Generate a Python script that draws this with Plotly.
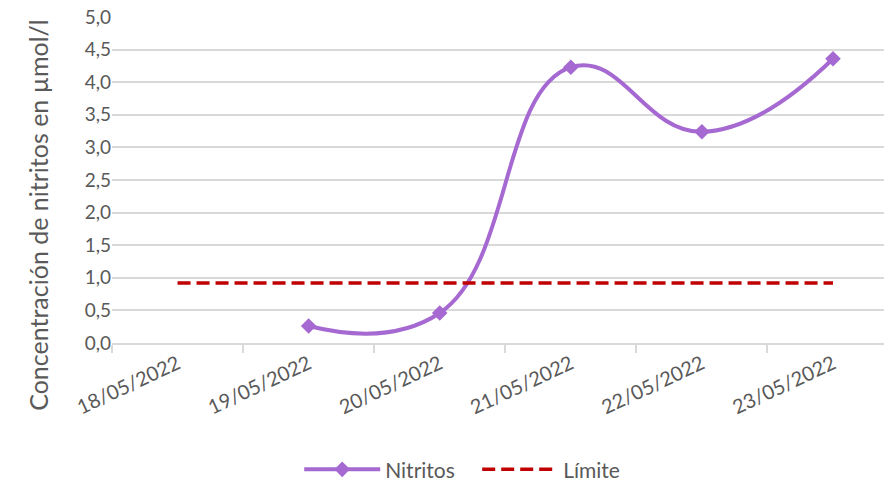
import plotly.graph_objects as go

dates = ["18/05/2022", "19/05/2022", "20/05/2022", "21/05/2022", "22/05/2022", "23/05/2022"]
nitritos = [None, 0.26, 0.46, 4.23, 3.24, 4.36]
limite = [0.92, 0.92, 0.92, 0.92, 0.92, 0.92]
y_ticks = [0, 0.5, 1.0, 1.5, 2.0, 2.5, 3.0, 3.5, 4.0, 4.5, 5.0]

FONT = "Lato"
GRAY = "#595959"

fig = go.Figure()
fig.add_trace(go.Scatter(
    x=dates, y=nitritos, name="Nitritos", mode="lines+markers",
    line=dict(color="#A569D1", width=4, shape="spline", smoothing=1.3),
    marker=dict(symbol="diamond", size=12, color="#A569D1"),
    connectgaps=False,
))
fig.add_trace(go.Scatter(
    x=dates, y=limite, name="Límite", mode="lines",
    line=dict(color="#C00000", width=3.5, dash="13px,6px"),
))

fig.update_layout(
    width=892, height=486,
    margin=dict(l=104, r=8, t=9, b=151, autoexpand=False),
    paper_bgcolor="white", plot_bgcolor="white",
    separators=",.",
    font=dict(family=FONT, color=GRAY, size=18),
    showlegend=True,
    legend=dict(orientation="h", x=0.24, xanchor="left", xref="paper",
                y=0.05, yanchor="middle", yref="container",
                font=dict(size=21, color=GRAY), traceorder="normal",
                itemwidth=76, tracegroupgap=0,
                entrywidth=87, entrywidthmode="pixels"),
    xaxis=dict(type="category", range=[-0.5, 5.45], tickson="boundaries",
               ticks="outside", ticklen=8, tickcolor="#D9D9D9", tickwidth=1.5,
               showline=True, linecolor="#D9D9D9", linewidth=1.5,
               showgrid=False, tickangle=-25, automargin=False,
               tickfont=dict(size=20, color=GRAY)),
    yaxis=dict(range=[0, 5.0], tickvals=y_ticks, tickformat=".1f",
               showgrid=True, gridcolor="#D9D9D9", gridwidth=1.5,
               zeroline=False, showline=False, ticks="",
               ticklabeloverflow="allow", automargin=False,
               tickfont=dict(size=19, color=GRAY)),
    annotations=[dict(
        text="Concentración de nitritos en µmol/l", textangle=-90,
        xref="paper", yref="paper", x=-0.095, y=0.393,
        xanchor="center", yanchor="middle", showarrow=False,
        font=dict(size=25, color=GRAY, family=FONT),
    )],
)

fig.write_html("out.html")
